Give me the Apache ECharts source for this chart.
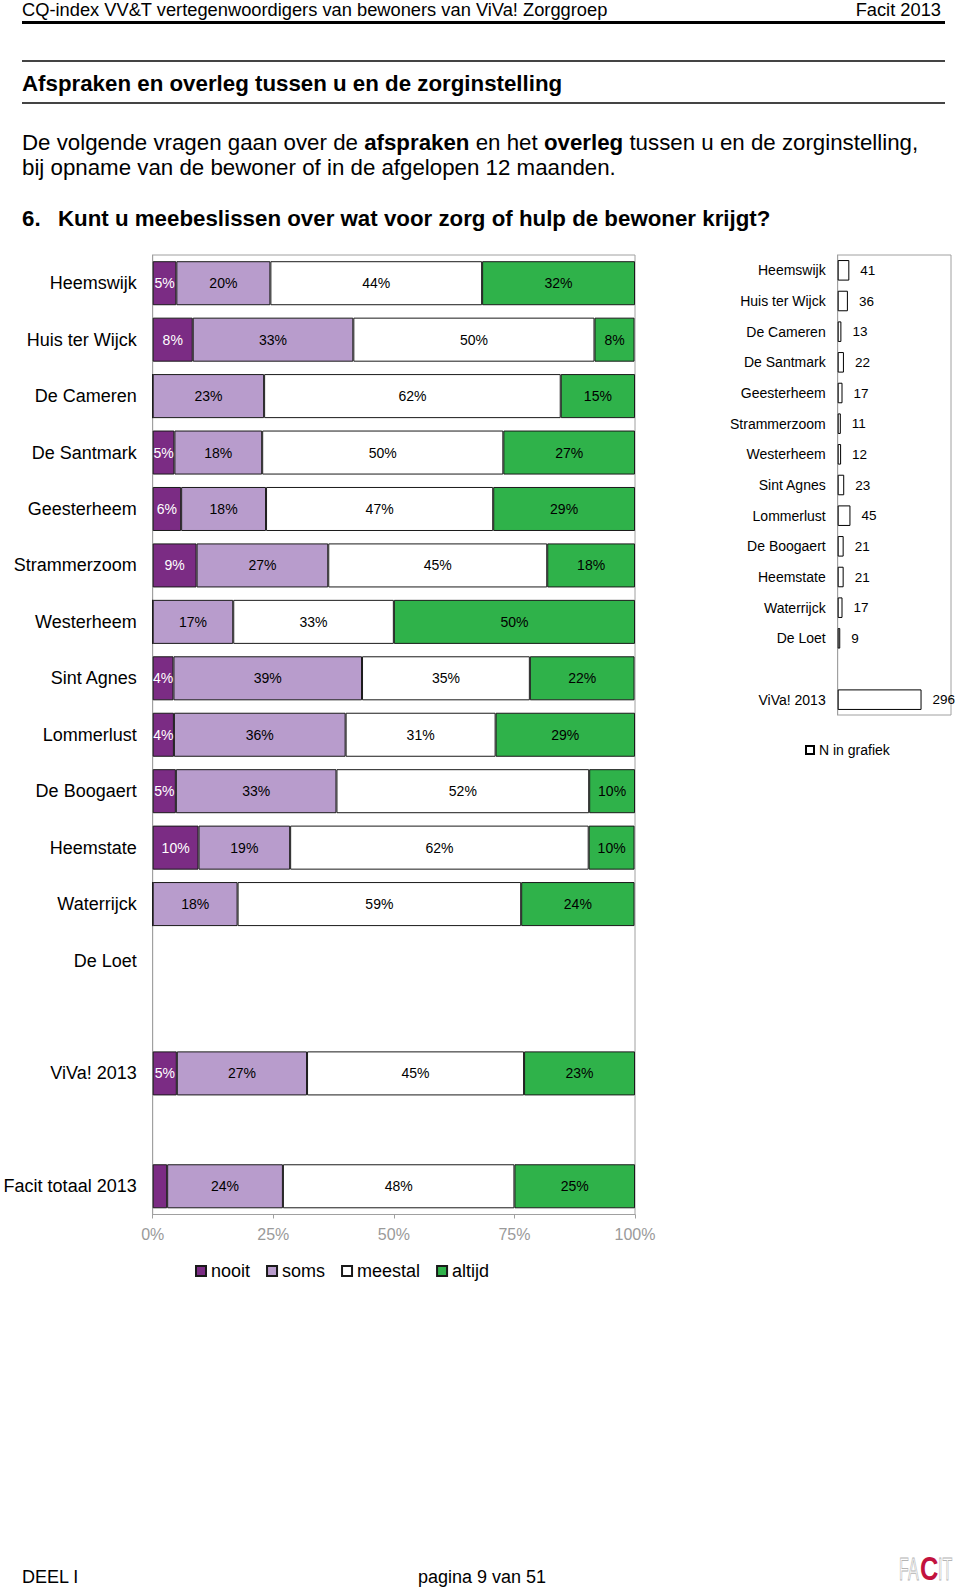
<!DOCTYPE html>
<html>
<head>
<meta charset="utf-8">
<script src="https://cdn.jsdelivr.net/npm/echarts@6/dist/echarts.min.js"></script>
<style>
  html, body { margin: 0; padding: 0; background: #fff; }
  body { width: 960px; height: 1590px; position: relative; overflow: hidden; font-family: "Liberation Sans", Arial, sans-serif; color: #000; }
  .t { position: absolute; white-space: nowrap; }
  .ln { position: absolute; }
  .logo { position: absolute; white-space: nowrap; font-size: 32px; line-height: 36px; transform-origin: left center; }
  #chart { position: absolute; left: 0; top: 0; width: 960px; height: 1590px; }
</style>
</head>
<body>
<div id="chart"></div>

<div class="t" style="left:22px; top:0px; font-size:18.3px; line-height:20px;">CQ-index VV&amp;T vertegenwoordigers van bewoners van ViVa! Zorggroep</div>
<div class="t" style="right:19px; top:0px; font-size:18.3px; line-height:20px;">Facit 2013</div>
<div class="ln" style="left:22px; top:21px; width:923px; height:3px; background:#000;"></div>
<div class="ln" style="left:22px; top:60px; width:923px; height:2px; background:#444;"></div>
<div class="t" style="left:22px; top:71px; font-size:22.3px; line-height:26px; font-weight:bold;">Afspraken en overleg tussen u en de zorginstelling</div>
<div class="ln" style="left:22px; top:102px; width:923px; height:2px; background:#444;"></div>
<div class="t" style="left:22px; top:130px; font-size:22.3px; line-height:25px;">De volgende vragen gaan over de <b>afspraken</b> en het <b>overleg</b> tussen u en de zorginstelling,<br>bij opname van de bewoner of in de afgelopen 12 maanden.</div>
<div class="t" style="left:22px; top:206px; font-size:22.3px; line-height:26px; font-weight:bold;">6.</div>
<div class="t" style="left:58px; top:206px; font-size:22.3px; line-height:26px; font-weight:bold;">Kunt u meebeslissen over wat voor zorg of hulp de bewoner krijgt?</div>

<div class="t" style="left:22px; top:1567px; font-size:18px; line-height:20px;">DEEL I</div>
<div class="t" style="left:418px; top:1567px; font-size:18px; line-height:20px;">pagina 9 van 51</div>
<span class="logo" style="left:899px; top:1551px; transform:scaleX(0.5); color:#fff; -webkit-text-stroke:1px #b5b5b5;">FA</span>
<span class="logo" style="left:920px; top:1550px; transform:scaleX(0.75); color:#c2123e; font-weight:bold; font-size:34px;">C</span>
<span class="logo" style="left:938px; top:1551px; transform:scaleX(0.5); color:#fff; -webkit-text-stroke:1px #b5b5b5;">IT</span>

<script>
// ---- data ----
const categories = ['Heemswijk','Huis ter Wijck','De Cameren','De Santmark','Geesterheem','Strammerzoom','Westerheem','Sint Agnes','Lommerlust','De Boogaert','Heemstate','Waterrijck','De Loet',' ','ViVa! 2013','  ','Facit totaal 2013'];
const nooit   = [4.9, 8.3, 0, 4.5, 5.9, 9.1, 0, 4.3, 4.4, 4.8, 9.5, 0, null, null, 5.0, null, 3.0];
const soms    = [19.5, 33.3, 23.1, 18.2, 17.6, 27.3, 16.7, 39.1, 35.6, 33.3, 19.0, 17.6, null, null, 27.0, null, 24.0];
const meestal = [43.9, 50.0, 61.5, 50.0, 47.1, 45.4, 33.3, 34.8, 31.1, 52.4, 61.9, 58.8, null, null, 45.0, null, 48.0];
const altijd  = [31.7, 8.3, 15.4, 27.3, 29.4, 18.2, 50.0, 21.7, 28.9, 9.5, 9.5, 23.5, null, null, 23.0, null, 25.0];
const xTicks = [0, 25, 50, 75, 100];

const nCategories = ['Heemswijk','Huis ter Wijck','De Cameren','De Santmark','Geesterheem','Strammerzoom','Westerheem','Sint Agnes','Lommerlust','De Boogaert','Heemstate','Waterrijck','De Loet',' ','ViVa! 2013'];
const nValues = [41, 36, 13, 22, 17, 11, 12, 23, 45, 21, 21, 17, 9, null, 296];

// ---- chart ----
const FONT = '"Liberation Sans", Arial, sans-serif';
const chart = echarts.init(document.getElementById('chart'), null, { renderer: 'svg' });

function pctLabel(color) {
  return {
    show: true,
    position: 'inside',
    fontSize: 14,
    fontFamily: FONT,
    color: color,
    formatter: p => (p.value == null || p.value < 3.5) ? '' : Math.round(p.value) + '%'
  };
}

function stackSeries(name, data, color, labelColor) {
  return {
    name: name,
    type: 'bar',
    stack: 'total',
    xAxisIndex: 0,
    yAxisIndex: 0,
    data: data,
    barCategoryGap: '22%',
    itemStyle: { color: color, borderColor: '#1a1a1a', borderWidth: 1 },
    label: pctLabel(labelColor),
    emphasis: { disabled: true },
    animation: false
  };
}

const option = {
  animation: false,
  textStyle: { fontFamily: FONT },
  grid: [
    { left: 152.7, top: 255, width: 482.3, height: 959.5, show: true, borderColor: '#a0a0a0', borderWidth: 1, backgroundColor: 'transparent' },
    { left: 837.7, top: 255, width: 113.3, height: 460, show: true, borderColor: '#a0a0a0', borderWidth: 1, backgroundColor: 'transparent' }
  ],
  xAxis: [
    {
      gridIndex: 0, type: 'value', min: xTicks[0], max: xTicks[xTicks.length - 1], interval: 25,
      axisLine: { show: true, lineStyle: { color: '#a0a0a0', width: 1 } },
      axisTick: { show: true, length: 4, lineStyle: { color: '#a0a0a0' } },
      axisLabel: { fontSize: 16, color: '#9a9a9a', margin: 12, formatter: '{value}%', fontFamily: FONT },
      splitLine: { show: false }
    },
    {
      gridIndex: 1, type: 'value', min: 0, max: 400, show: false, splitLine: { show: false }
    }
  ],
  yAxis: [
    {
      gridIndex: 0, type: 'category', data: categories, inverse: true,
      axisLine: { show: true, lineStyle: { color: '#a0a0a0' } },
      axisTick: { show: false },
      axisLabel: { fontSize: 18, color: '#000', margin: 16, fontFamily: FONT, interval: 0 }
    },
    {
      gridIndex: 1, type: 'category', data: nCategories, inverse: true,
      axisLine: { show: true, lineStyle: { color: '#a0a0a0' } },
      axisTick: { show: false },
      axisLabel: { fontSize: 14, color: '#000', margin: 12, fontFamily: FONT, interval: 0 }
    }
  ],
  legend: [
    {
      data: ['nooit', 'soms', 'meestal', 'altijd'],
      left: 195, top: 1262, padding: 0,
      icon: 'rect', itemWidth: 10, itemHeight: 10, itemGap: 16,
      textStyle: { fontSize: 18, color: '#000', fontFamily: FONT },
      selectedMode: false
    },
    {
      data: ['N in grafiek'],
      left: 805, top: 743, padding: 0,
      icon: 'rect', itemWidth: 8, itemHeight: 8,
      textStyle: { fontSize: 14, color: '#000', fontFamily: FONT },
      selectedMode: false
    }
  ],
  series: [
    stackSeries('nooit', nooit, '#7b2c84', '#ffffff'),
    stackSeries('soms', soms, '#b89ccc', '#000000'),
    stackSeries('meestal', meestal, '#ffffff', '#000000'),
    stackSeries('altijd', altijd, '#2fb24a', '#000000'),
    {
      name: 'N in grafiek',
      type: 'bar',
      xAxisIndex: 1,
      yAxisIndex: 1,
      data: nValues,
      barCategoryGap: '33%',
      itemStyle: { color: '#ffffff', borderColor: '#000', borderWidth: 1 },
      label: { show: true, position: 'right', distance: 11, fontSize: 13.5, color: '#000', fontFamily: FONT },
      emphasis: { disabled: true },
      animation: false
    }
  ]
};
chart.setOption(option);
</script>
</body>
</html>
